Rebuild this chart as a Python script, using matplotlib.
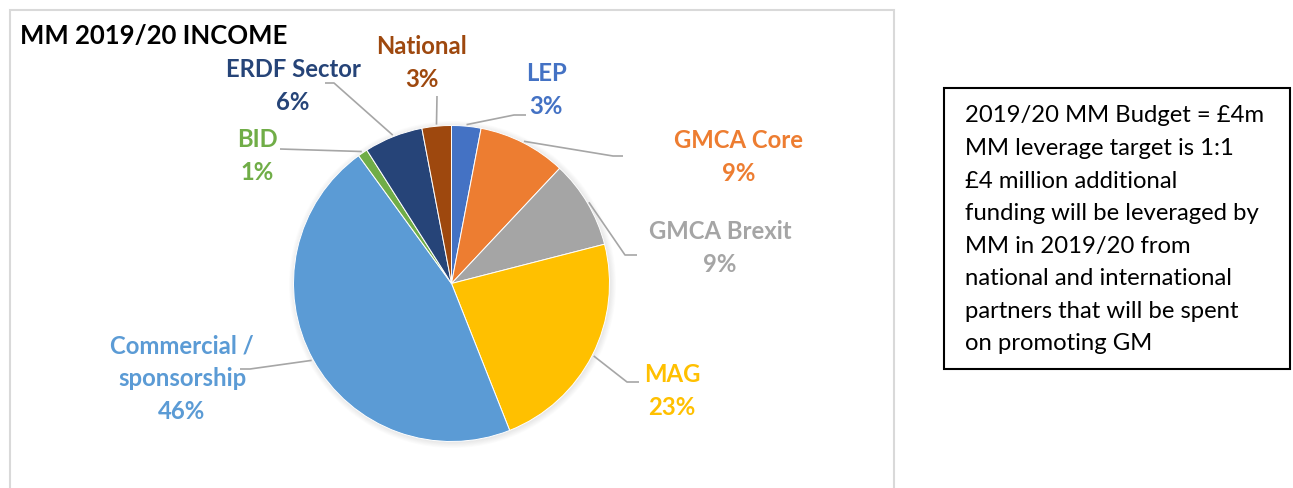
import numpy as np
import matplotlib.pyplot as plt
from matplotlib.patches import Rectangle, Circle

plt.rcParams['font.family'] = ['Lato', 'DejaVu Sans']

# 數據 (clockwise from 12 o'clock)
names = ["LEP", "GMCA Core", "GMCA Brexit", "MAG", "Commercial /\nsponsorship",
         "BID", "ERDF Sector", "National"]
shares = [3, 9, 9, 23, 46, 1, 6, 3]
colors = ["#4472C4", "#ED7D31", "#A5A5A5", "#FFC000", "#5B9BD5",
          "#70AD47", "#264478", "#9E480E"]

note_lines = [
    "2019/20 MM Budget = £4m",
    "MM leverage target is 1:1",
    "£4 million additional",
    "funding will be leveraged by",
    "MM in 2019/20 from",
    "national and international",
    "partners that will be spent",
    "on promoting GM",
]

W, H = 1293, 488
fig = plt.figure(figsize=(W / 100, H / 100), dpi=100)
ax = fig.add_axes([0, 0, 1, 1])


def py(y):
    # pixel row -> data y
    return H - y


cx, cy, R = 451.5, py(283.5), 158

# soft shadow around the pie
for k in range(8):
    ax.add_patch(Circle((cx + 1, cy - 1), R + 0.8 * k, color="black",
                        alpha=0.012, zorder=0, lw=0))

wedges, _ = ax.pie(shares, colors=colors, startangle=90, counterclock=False,
                   center=(cx, cy), radius=R,
                   wedgeprops=dict(edgecolor="white", linewidth=0.7))

# label block centres and leader line bends (pixel coords)
label_xy = [(546, 90), (739, 157), (720, 248), (672, 391), (182, 379),
            (257, 156), (293, 86), (422, 63)]
leader_pts = [
    [(514, 115), (526, 115)],
    [(613, 156), (623, 156)],
    [(625, 255), (637, 255)],
    [(627, 382), (639, 382)],
    [(250, 369), (240, 369)],
    [(280, 149)],
    [(334, 83), (325, 83)],
    [(437, 96)],
]

for w, name, v, col, (lx, ly), pts in zip(wedges, names, shares, colors,
                                          label_xy, leader_pts):
    mid = np.deg2rad((w.theta1 + w.theta2) / 2)
    sx = cx + R * 1.01 * np.cos(mid)
    sy = cy + R * 1.01 * np.sin(mid)
    xs = [sx] + [p[0] for p in pts]
    ys = [sy] + [py(p[1]) for p in pts]
    ax.plot(xs, ys, color="#A6A6A6", lw=1.2, zorder=1, solid_capstyle="butt")
    ax.text(lx, py(ly), f"{name}\n{v}%", color=col, fontsize=17.2,
            fontweight="bold", ha="center", va="center", linespacing=1.5)

ax.text(20, py(36), "MM 2019/20 INCOME", fontsize=18.5, fontweight="bold",
        color="black", ha="left", va="center")

# chart area border
ax.add_patch(Rectangle((10, py(500)), 884, 490, fill=False,
                       edgecolor="#D9D9D9", lw=1.5, zorder=0))

# text box on the right
ax.add_patch(Rectangle((944, py(369)), 346, 281, fill=False,
                       edgecolor="black", lw=1.5))
for i, line in enumerate(note_lines):
    ax.text(965, py(116 + 32.5 * i), line, fontsize=17.2, color="black",
            ha="left", va="center")

ax.set_xlim(0, W)
ax.set_ylim(0, H)
ax.axis("off")

fig.savefig("out.png", dpi=100)
